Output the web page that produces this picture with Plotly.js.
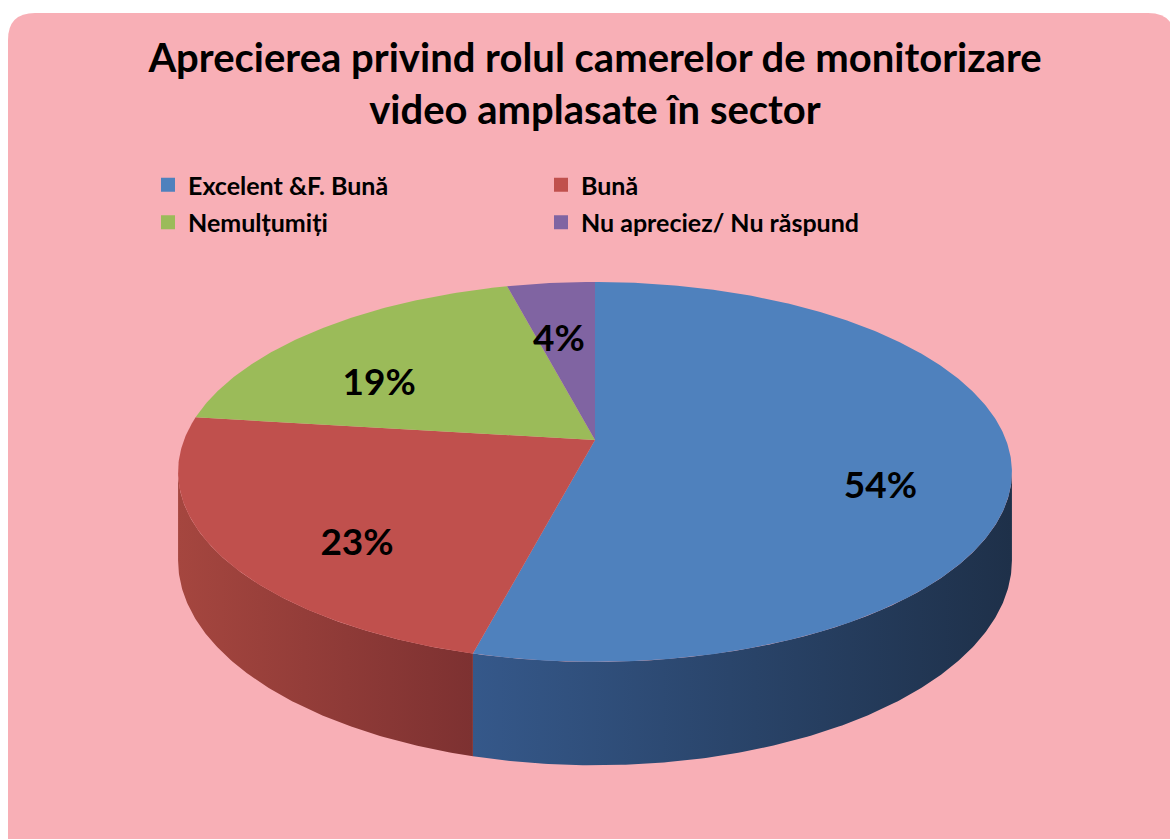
<!DOCTYPE html>
<html>
<head>
<meta charset="utf-8">
<script src="https://cdn.plot.ly/plotly-3.0.1.min.js"></script>
<style>
  html, body { margin: 0; padding: 0; background: #ffffff; }
  #chart { width: 1170px; height: 839px; }
</style>
</head>
<body>
<div id="chart"></div>
<script>
// ---- data ----
const categories = ['Excelent &F. Bună', 'Bună', 'Nemulțumiți', 'Nu apreciez/ Nu răspund'];
const values = [54, 23, 19, 4];
const valueLabels = ['54%', '23%', '19%', '4%'];
const titleText = 'Aprecierea privind rolul camerelor de monitorizare<br>video amplasate în sector';

// ---- styles ----
const topColors = ['#4F81BD', '#C0504D', '#9BBB59', '#8064A2'];
const sideColors = [['#35588A', '#1E3049'], ['#A5463F', '#7D3131'], ['#7A9446', '#5C7034'], ['#65507F', '#4B3C60']];
const legendOf = ['legend', 'legend2', 'legend', 'legend2'];
const FONT = 'Lato, "Open Sans", "Liberation Sans", sans-serif';

// ---- 3D pie geometry (pixel space) ----
const G = { cx: 595, cy: 440, sx: 411, sy: 184.6, a: 0.168, drop: 86,
            lcx: 595, lcy: 472, lrx: 417, lry: 190, lr: 0.69 };
const rad = d => d * Math.PI / 180;
function proj(deg, r, drop) {
  const u = r * Math.sin(rad(deg)), v = r * Math.cos(rad(deg));
  const w = 1 + G.a * v;
  return [G.cx + G.sx * u / w, G.cy - G.sy * v / w + (drop || 0) / w];
}
function arc(d0, d1, drop) {
  const pts = [];
  const n = Math.max(2, Math.ceil(Math.abs(d1 - d0) / 0.5));
  for (let k = 0; k <= n; k++) pts.push(proj(d0 + (d1 - d0) * k / n, 1, drop));
  return pts;
}

const total = values.reduce((s, v) => s + v, 0);
const starts = [], ends = [];
let acc = 0;
values.forEach(v => { starts.push(acc / total * 360); acc += v; ends.push(acc / total * 360); });

const silL = Math.acos(-G.a) * 180 / Math.PI;      // right silhouette angle
const silR = 360 - silL;                           // left silhouette angle

const traces = [];
// side walls (only visible front part)
values.forEach((v, i) => {
  const d0 = Math.max(starts[i], silL), d1 = Math.min(ends[i], silR);
  if (d1 <= d0) return;
  const top = arc(d0, d1, 0), bot = arc(d1, d0, G.drop);
  const pts = top.concat(bot);
  pts.push(top[0]);
  traces.push({
    type: 'scatter', mode: 'lines', x: pts.map(p => p[0]), y: pts.map(p => p[1]),
    fill: 'toself', line: { width: 0 }, fillcolor: sideColors[i][0],
    fillgradient: { type: 'horizontal', colorscale: [[0, sideColors[i][0]], [1, sideColors[i][1]]] },
    showlegend: false, hoverinfo: 'skip'
  });
});
// top faces
values.forEach((v, i) => {
  const pts = [[G.cx, G.cy]].concat(arc(starts[i], ends[i], 0));
  pts.push([G.cx, G.cy]);
  traces.push({
    type: 'scatter', mode: 'lines', x: pts.map(p => p[0]), y: pts.map(p => p[1]),
    fill: 'toself', line: { width: 0 }, fillcolor: topColors[i],
    showlegend: false, hoverinfo: 'skip'
  });
});
// data labels
const lx = [], ly = [];
values.forEach((v, i) => {
  const m = (starts[i] + ends[i]) / 2;
  lx.push(G.lcx + G.lrx * G.lr * Math.sin(rad(m)));
  ly.push(G.lcy - G.lry * G.lr * Math.cos(rad(m)));
});
traces.push({
  type: 'scatter', mode: 'text', x: lx, y: ly, text: valueLabels,
  textposition: 'middle center',
  textfont: { family: FONT, size: 37, color: '#000000', weight: 'bold' },
  showlegend: false, hoverinfo: 'skip'
});
// legend entries
categories.forEach((c, i) => {
  traces.push({
    type: 'scatter', mode: 'markers', x: [null], y: [null], name: c,
    legend: legendOf[i], legendgroup: 'g' + i,
    marker: { symbol: 'square', size: 14, color: topColors[i] },
    showlegend: true, hoverinfo: 'skip'
  });
});

const legendCommon = {
  orientation: 'v', xanchor: 'left', yanchor: 'top',
  bgcolor: 'rgba(0,0,0,0)', borderwidth: 0, tracegroupgap: 2,
  font: { family: FONT, size: 25, color: '#000000', weight: 'bold' },
  itemclick: false, itemdoubleclick: false
};

const layout = {
  width: 1170, height: 839,
  margin: { l: 0, r: 0, t: 0, b: 0 },
  paper_bgcolor: '#ffffff', plot_bgcolor: 'rgba(0,0,0,0)',
  title: {
    text: titleText, x: 595 / 1170, xanchor: 'center', xref: 'paper',
    y: 1 - 72 / 839, yanchor: 'top', yref: 'container',
    font: { family: FONT, size: 40, color: '#000000', weight: 'bold' }
  },
  xaxis: { range: [0, 1170], visible: false, fixedrange: true },
  yaxis: { range: [839, 0], visible: false, fixedrange: true },
  showlegend: true,
  legend: Object.assign({}, legendCommon, { x: 148 / 1170, y: 1 - 162 / 839 }),
  legend2: Object.assign({}, legendCommon, { x: 541 / 1170, y: 1 - 162 / 839 }),
  shapes: [{
    type: 'path', xref: 'x', yref: 'y', layer: 'below',
    path: 'M 8,900 L 8,40 Q 8,13 35,13 L 1148,13 Q 1175,13 1175,40 L 1175,900 Z',
    fillcolor: '#F8AFB6', line: { width: 0 }
  }],
  hovermode: false
};

Plotly.newPlot('chart', traces, layout, { staticPlot: true, displayModeBar: false });
</script>
</body>
</html>
